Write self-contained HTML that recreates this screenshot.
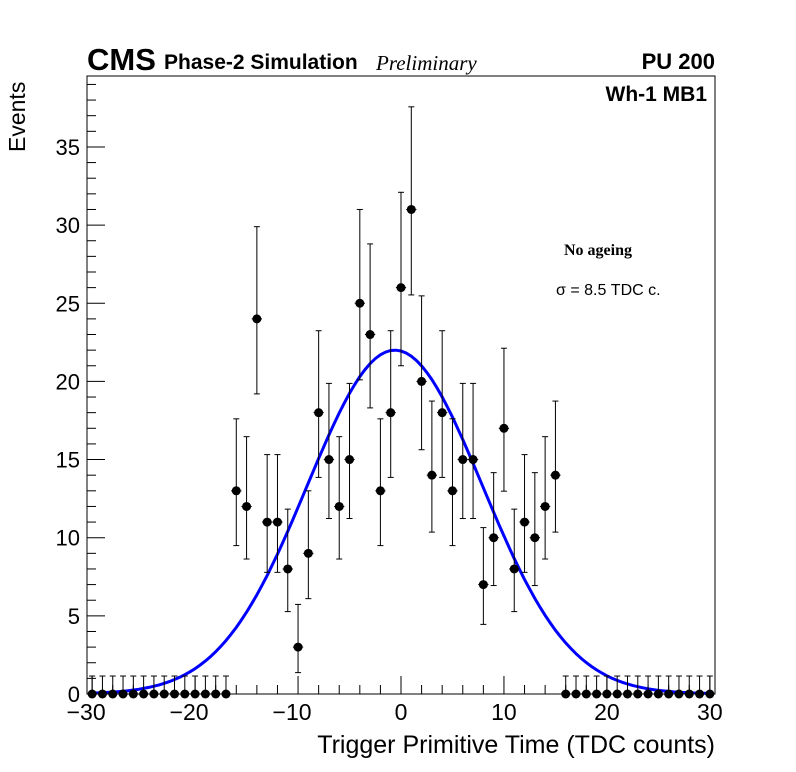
<!DOCTYPE html>
<html><head><meta charset="utf-8"><style>
body{margin:0;background:#fff;}
svg{display:block;font-family:"Liberation Sans",sans-serif;}
</style></head><body>
<svg id="c" width="796" height="772" xmlns="http://www.w3.org/2000/svg">
<rect x="87" y="76" width="628" height="618" fill="none" stroke="#000" stroke-width="1"/>
<g id="ticks"></g>
<g id="fit"></g>
<g id="pts"></g>
<text x="87" y="70" font-size="31" font-weight="bold">CMS</text>
<text x="164" y="69" font-size="21" font-weight="bold">Phase-2 Simulation</text>
<text x="376" y="70" font-size="21" font-style="italic" font-family="Liberation Serif,serif">Preliminary</text>
<text x="715" y="69" font-size="22" font-weight="bold" text-anchor="end">PU 200</text>
<text x="707" y="101" font-size="21" font-weight="bold" text-anchor="end">Wh-1 MB1</text>
<text x="564" y="255" font-size="16" font-weight="bold" font-family="Liberation Serif,serif">No ageing</text>
<text x="556" y="295" font-size="16">σ = 8.5 TDC c.</text>
<text x="715" y="753" font-size="25" text-anchor="end">Trigger Primitive Time (TDC counts)</text>
<text transform="translate(25,152) rotate(-90)" font-size="23">Events</text>
<g id="labels"></g>
</svg>
<script>
const xs=[];for(let i=-30;i<=30;i++)xs.push(i);
const counts=[0,0,0,0,0,0,0,0,0,0,0,0,0,0,
13,12,24,11,11,8,3,9,18,15,12,15,25,23,13,18,26,31,20,14,18,13,15,15,7,10,17,8,11,10,12,14,
0,0,0,0,0,0,0,0,0,0,0,0,0,0,0];
const fitMean=-0.6, fitSigma=8.5, fitAmp=22;
const xTickLabels=[-30,-20,-10,0,10,20,30];
const yTickLabels=[0,5,10,15,20,25,30,35];
const NS="http://www.w3.org/2000/svg";
const X=v=>87+(v+30.5)/61*628;
const Y=v=>694-v*15.63;
function mk(t,a,p){const e=document.createElementNS(NS,t);for(const k in a)e.setAttribute(k,a[k]);p.appendChild(e);return e;}
const tk=document.getElementById('ticks');
for(let v=-30;v<=30;v+=2){const L=v%10===0?18:9;
const t=mk('line',{x1:X(v),x2:X(v),y1:694,y2:694-L,stroke:'#000'},tk);

}
for(let v=0;v<=39;v++){const L=v%5===0?18:9;
const t=mk('line',{x1:87,x2:87+L,y1:Y(v),y2:Y(v),stroke:'#000'},tk);

}
const lb=document.getElementById('labels');
xTickLabels.forEach(v=>{const t=mk('text',{x:X(v)-(v<0?6:0),y:720,'font-size':23,'text-anchor':'middle'},lb);t.textContent=(v<0?'−':'')+Math.abs(v);

});
yTickLabels.forEach(v=>{const t=mk('text',{x:80,y:Y(v)+8,'font-size':22,'text-anchor':'end'},lb);t.textContent=v;

});
const fit=document.getElementById('fit');let d='';
for(let v=-30;v<=30;v+=0.5){const y=fitAmp*Math.exp(-((v-fitMean)**2)/(2*fitSigma*fitSigma));d+=(d?'L':'M')+X(v).toFixed(1)+','+Y(y).toFixed(1);}
const fp=mk('path',{d:d,fill:'none',stroke:'#0000ff','stroke-width':3},fit);


const pts=document.getElementById('pts');
xs.forEach((x,i)=>{const n=counts[i];const up=n===0?1.15:n+Math.sqrt(n)+1;const lo=n===0?0:n-Math.sqrt(n)+0.1;
const g=mk('g',{},pts);


mk('line',{x1:X(x),x2:X(x),y1:Y(up),y2:Y(lo),stroke:'#000'},g);
mk('line',{x1:X(x)-3,x2:X(x)+3,y1:Y(up),y2:Y(up),stroke:'#000'},g);
if(n>0)mk('line',{x1:X(x)-3,x2:X(x)+3,y1:Y(lo),y2:Y(lo),stroke:'#000'},g);
mk('line',{x1:X(x-0.5),x2:X(x+0.5),y1:Y(n),y2:Y(n),stroke:'#000'},g);
mk('circle',{cx:X(x),cy:Y(n),r:4.5,fill:'#000'},g);});
</script>
</body></html>
